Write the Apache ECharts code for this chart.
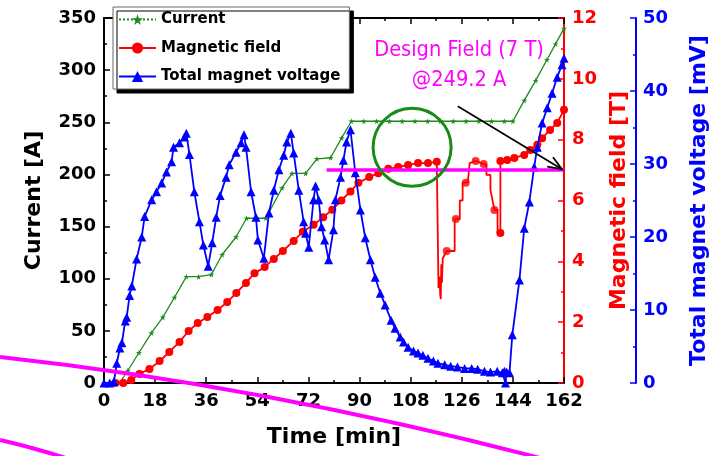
<!DOCTYPE html>
<html>
<head>
<meta charset="utf-8">
<script src="https://cdn.jsdelivr.net/npm/echarts@6/dist/echarts.min.js"></script>
<style>
  html, body { margin: 0; padding: 0; background: #fff; }
  #chart { width: 718px; height: 456px; }
</style>
</head>
<body>
<div id="chart"></div>
<script>
// current ramp (A) vs time (min)
const currentTime = [5.5, 8.4, 12.3, 16.7, 20.7, 24.8, 29.0, 33.3, 37.8, 41.6, 46.5, 50.2, 53.6, 57.0, 62.7, 66.2, 71.0, 75.0, 79.8, 83.7, 87.1,
  91.5, 96.0, 100.5, 105.0, 109.5, 114.0, 118.5, 123.0, 127.5, 132.0, 136.5, 141.0, 144.0, 148.0, 152.0, 156.0, 159.0, 162.0];
const currentValue = [0, 12, 29, 48, 63, 82, 102, 102, 104, 123, 140, 158, 158, 158, 187, 201, 201, 215, 216, 235, 251,
  251, 251, 251, 251, 251, 251, 251, 251, 251, 251, 251, 251, 251, 271, 290, 310, 325, 340];

// magnetic field (T), including the drop around 118-140 min
const fieldTime = [4.0, 6.8, 9.6, 12.5, 16.0, 19.6, 23.0, 26.6, 29.8, 33.0, 36.4, 40.0, 43.4, 46.6, 50.0, 53.0, 56.6, 59.8, 63.0, 66.8,
  70.0, 73.8, 77.2, 80.4, 83.6, 86.8, 89.6, 93.4, 96.6, 100.1, 103.6, 107.1, 110.6, 114.1, 117.2,
  117.8, 117.8, 118.2, 118.4, 118.6, 118.8, 119.0, 119.3, 120.7, 123.5, 123.5, 125.3, 125.3, 126.3, 126.3, 128.1, 128.8, 130.9, 133.7,
  134.7, 134.7, 136.1, 136.1, 137.5, 138.6, 138.6, 139.6, 139.6,
  142.0, 144.5, 148.0, 150.1, 152.6, 154.3, 157.1, 159.6, 162.0];
const fieldValue = [0, 0, 0.1, 0.3, 0.46, 0.72, 1.02, 1.35, 1.71, 1.97, 2.17, 2.4, 2.66, 2.96, 3.29, 3.61, 3.81, 4.08, 4.34, 4.67,
  4.97, 5.2, 5.45, 5.7, 6.0, 6.3, 6.58, 6.77, 6.9, 7.04, 7.1, 7.17, 7.23, 7.23, 7.27,
  7.27, 3.12, 3.5, 2.9, 2.76, 3.9, 3.3, 4.1, 4.34, 4.34, 5.39, 5.39, 6.0, 6.0, 6.58, 6.6, 7.23, 7.3, 7.2,
  7.17, 6.84, 6.84, 6.35, 5.69, 5.69, 4.93, 4.93, 7.3,
  7.33, 7.4, 7.5, 7.66, 7.83, 8.05, 8.32, 8.55, 8.98];
// dots drawn on the steps of the drop
const dropDotTime = [120.7, 123.9, 127.4, 130.9, 133.7, 137.5];
const dropDotValue = [4.34, 5.39, 6.58, 7.3, 7.2, 5.69];

// total magnet voltage (mV)
const voltageTime = [0, 2.0, 3.5, 4.5, 5.6, 6.3, 7.5, 8.0, 9.0, 9.8, 11.5, 13.3, 14.3, 16.8, 18.5, 20.3, 22.0, 23.8, 24.5, 26.6, 28.3, 29.0,
  30.1, 31.8, 33.6, 35.0, 36.7, 38.1, 39.5, 40.9, 43.0, 44.1, 46.5, 48.3, 49.3,
  50.0, 51.8, 53.5, 54.2, 56.3, 58.1, 59.8, 61.6, 63.3, 64.4, 65.8,
  66.8, 68.6, 70.3, 71.0, 72.1, 73.8, 74.5, 75.6, 76.6, 77.7, 79.1,
  80.8, 81.5, 83.3, 84.3, 85.4, 86.8, 88.5, 90.3, 92.0, 93.8, 95.5, 97.3, 99.0, 101.1, 102.5, 104.3, 105.5, 107.1, 109.0,
  110.6, 112.3, 114.1, 116.0, 117.6, 120.0, 122.1, 124.5, 127.0, 129.5, 131.6, 134.0, 136.1, 138.5, 140.3, 141.0, 141.4, 141.8, 142.8,
  143.8, 146.3, 148.0, 149.8, 151.5, 152.6, 154.3, 156.1, 157.8, 159.6, 161.3, 162.0];
const voltageValue = [0, 0, 0.2, 2.7, 4.8, 5.5, 8.5, 9.0, 12.0, 13.3, 17.0, 20.0, 22.8, 25.1, 26.2, 27.4, 28.9, 30.3, 32.3, 32.9, 33.7, 34.2,
  31.3, 26.2, 22.1, 18.9, 16.0, 19.2, 22.7, 25.7, 28.2, 29.9, 31.6, 32.9, 34.0,
  32.3, 26.2, 22.7, 19.6, 17.1, 23.3, 26.4, 29.2, 31.2, 33.0, 34.2,
  31.5, 26.4, 22.1, 20.5, 18.6, 25.1, 27.0, 25.1, 21.4, 19.6, 16.9,
  21.0, 25.1, 28.2, 30.5, 33.0, 34.7, 28.8, 23.7, 19.9, 16.9, 14.5, 12.3, 10.7, 8.6, 7.5, 6.3, 5.6, 4.9, 4.4,
  4.1, 3.8, 3.4, 3.0, 2.7, 2.5, 2.3, 2.2, 2.0, 2.0, 1.9, 1.6, 1.5, 1.6, 1.4, 1.6, 0, 1.5, 1.4,
  6.6, 14.1, 21.2, 24.8, 29.6, 32.3, 35.6, 37.7, 39.7, 41.9, 43.6, 44.5];

// design field line (7 T)
const designTime = [78.4, 162];
const designValue = [7, 7];

const zip = (xs, ys) => xs.map((x, i) => [x, ys[i]]);
const STAR = 'path://M50,0 L61,35 L98,35 L68,57 L79,91 L50,70 L21,91 L32,57 L2,35 L39,35 Z';
const FONT = 'DejaVu Sans, sans-serif';
const NARROW = 'Liberation Sans Narrow, DejaVu Sans Condensed, sans-serif';
const MAGENTA = '#ff00ff';

const chart = echarts.init(document.getElementById('chart'));

const tickLabel = color => ({ color, fontSize: 18, fontWeight: 'bold', fontFamily: FONT });
const axisName = color => ({ color, fontSize: 22, fontWeight: 'bold', fontFamily: FONT });

chart.setOption({
  animation: false,
  backgroundColor: '#fff',
  grid: { left: 104, right: 151, top: 18, bottom: 73, containLabel: false },
  legend: {
    orient: 'vertical',
    left: 113,
    top: 7,
    padding: [5, 9, 5, 5],
    itemWidth: 37,
    itemHeight: 14,
    itemGap: 13.5,
    backgroundColor: '#fff',
    borderColor: '#666',
    borderWidth: 1,
    borderRadius: 0,
    shadowColor: '#000',
    shadowBlur: 0,
    shadowOffsetX: 4,
    shadowOffsetY: 4,
    textStyle: { color: '#000', fontSize: 15, fontWeight: 'bold', fontFamily: FONT },
    data: [
      { name: 'Current', lineStyle: { type: 'dotted' } },
      'Magnetic field',
      'Total magnet voltage'
    ]
  },
  xAxis: [
    {
      type: 'value', min: 0, max: 162, interval: 18, position: 'bottom',
      name: 'Time [min]', nameLocation: 'middle', nameGap: 43, nameTextStyle: axisName('#000'),
      axisLine: { onZero: false, lineStyle: { color: '#000', width: 2 } },
      axisTick: { inside: true, length: 6, lineStyle: { width: 1.5 } },
      minorTick: { show: true, splitNumber: 2, length: 3, lineStyle: { color: '#000', width: 1.5 } },
      axisLabel: Object.assign({ margin: 9 }, tickLabel('#000')),
      splitLine: { show: false }
    },
    {
      type: 'value', min: 0, max: 162, interval: 18, position: 'top',
      axisLine: { onZero: false, lineStyle: { color: '#000', width: 2 } },
      axisTick: { inside: true, length: 6, lineStyle: { width: 1.5 } },
      minorTick: { show: true, splitNumber: 2, length: 3, lineStyle: { color: '#000', width: 1.5 } },
      axisLabel: { show: false },
      splitLine: { show: false }
    }
  ],
  yAxis: [
    {
      type: 'value', min: 0, max: 350, interval: 50, position: 'left',
      name: 'Current [A]', nameLocation: 'middle', nameGap: 59, nameTextStyle: axisName('#000'),
      axisLine: { show: true, onZero: false, lineStyle: { color: '#000', width: 2 } },
      axisTick: { show: true, inside: true, length: 6, lineStyle: { width: 1.5 } },
      minorTick: { show: true, splitNumber: 2, length: 3, lineStyle: { color: '#000', width: 1.5 } },
      axisLabel: Object.assign({ margin: 8 }, tickLabel('#000')),
      splitLine: { show: false }
    },
    {
      type: 'value', min: 0, max: 12, interval: 2, position: 'right',
      name: 'Magnetic field [T]', nameLocation: 'middle', nameGap: 28, nameRotate: 90,
      nameTextStyle: axisName('#ff0000'),
      axisLine: { show: true, onZero: false, lineStyle: { color: '#ff0000', width: 2 } },
      axisTick: { show: true, inside: true, length: 6, lineStyle: { width: 1.5 } },
      minorTick: { show: true, splitNumber: 2, length: 3, lineStyle: { color: '#ff0000', width: 1.5 } },
      axisLabel: Object.assign({ margin: 8 }, tickLabel('#ff0000')),
      splitLine: { show: false }
    },
    {
      type: 'value', min: 0, max: 50, interval: 10, position: 'right', offset: 72,
      name: 'Total magnet voltage [mV]', nameLocation: 'middle', nameGap: 52, nameRotate: 90,
      nameTextStyle: axisName('#0000ff'),
      axisLine: { show: true, onZero: false, lineStyle: { color: '#0000ff', width: 2 } },
      axisTick: { show: true, inside: true, length: 6, lineStyle: { width: 1.5 } },
      minorTick: { show: true, splitNumber: 2, length: 3, lineStyle: { color: '#0000ff', width: 1.5 } },
      axisLabel: Object.assign({ margin: 7 }, tickLabel('#0000ff')),
      splitLine: { show: false }
    }
  ],
  series: [
    {
      name: 'Current', type: 'line', yAxisIndex: 0,
      data: zip(currentTime, currentValue),
      symbol: STAR, symbolSize: 6,
      itemStyle: { color: '#1c8c1c' },
      lineStyle: { color: '#1c8c1c', width: 1.3 },
      z: 3
    },
    {
      name: 'Magnetic field', type: 'line', yAxisIndex: 1,
      data: zip(fieldTime, fieldValue),
      symbol: 'circle',
      // no dots on the vertical steps of the drop
      symbolSize: v => (v[0] > 117.5 && v[0] < 139.5 ? 0 : 8),
      itemStyle: { color: '#ff0000' },
      lineStyle: { color: '#ff0000', width: 1.8 },
      z: 4
    },
    {
      name: 'drop dots', type: 'scatter', yAxisIndex: 1,
      data: zip(dropDotTime, dropDotValue),
      symbol: 'circle', symbolSize: 8,
      itemStyle: { color: '#ff0000' },
      z: 4
    },
    {
      name: 'Total magnet voltage', type: 'line', yAxisIndex: 2,
      data: zip(voltageTime, voltageValue),
      symbol: 'triangle', symbolSize: 9,
      itemStyle: { color: '#0000ff' },
      lineStyle: { color: '#0000ff', width: 1.8 },
      z: 5
    },
    {
      name: 'design', type: 'line', yAxisIndex: 1,
      data: zip(designTime, designValue),
      symbol: 'none',
      lineStyle: { color: MAGENTA, width: 3.5 },
      z: 6
    }
  ]
});

// annotations placed from data coordinates
const ringC = chart.convertToPixel({ xAxisIndex: 0, yAxisIndex: 0 }, [107.8, 226]);
const arrowFrom = chart.convertToPixel({ xAxisIndex: 0, yAxisIndex: 1 }, [124.6, 9.1]);
const arrowTo = chart.convertToPixel({ xAxisIndex: 0, yAxisIndex: 1 }, [161.3, 7.03]);
const ang = Math.atan2(arrowTo[1] - arrowFrom[1], arrowTo[0] - arrowFrom[0]);
const head = (da) => [arrowTo[0] - 15 * Math.cos(ang + da), arrowTo[1] - 15 * Math.sin(ang + da)];
const h1 = head(0.38), h2 = head(-0.38);

chart.setOption({
  graphic: [
    {
      type: 'circle', z: 20,
      shape: { cx: ringC[0] + 2, cy: ringC[1], r: 39 },
      style: { fill: null, stroke: '#188a18', lineWidth: 3 }
    },
    {
      type: 'line', z: 20,
      shape: { x1: arrowFrom[0], y1: arrowFrom[1], x2: arrowTo[0], y2: arrowTo[1] },
      style: { stroke: '#000', lineWidth: 1.8 }
    },
    {
      type: 'polyline', z: 20,
      shape: { points: [h1, arrowTo, h2] },
      style: { fill: null, stroke: '#000', lineWidth: 1.8 }
    },
    {
      type: 'text', z: 20, x: 459, y: 50,
      style: {
        text: 'Design Field (7 T)', fill: MAGENTA, align: 'center', verticalAlign: 'middle',
        fontSize: 21.6, fontFamily: NARROW
      }
    },
    {
      type: 'text', z: 20, x: 459, y: 80,
      style: {
        text: '@249.2 A', fill: MAGENTA, align: 'center', verticalAlign: 'middle',
        fontSize: 21.6, fontFamily: NARROW
      }
    },
    // magenta pen strokes across the bottom
    {
      type: 'bezierCurve', z: 30,
      shape: { x1: 0, y1: 357, cpx1: 264, cpy1: 386, x2: 540, y2: 458 },
      style: { fill: null, stroke: MAGENTA, lineWidth: 4 }
    },
    {
      type: 'bezierCurve', z: 30,
      shape: { x1: 0, y1: 440, cpx1: 35, cpy1: 448, x2: 72, y2: 460 },
      style: { fill: null, stroke: MAGENTA, lineWidth: 4 }
    }
  ]
});
</script>
</body>
</html>
